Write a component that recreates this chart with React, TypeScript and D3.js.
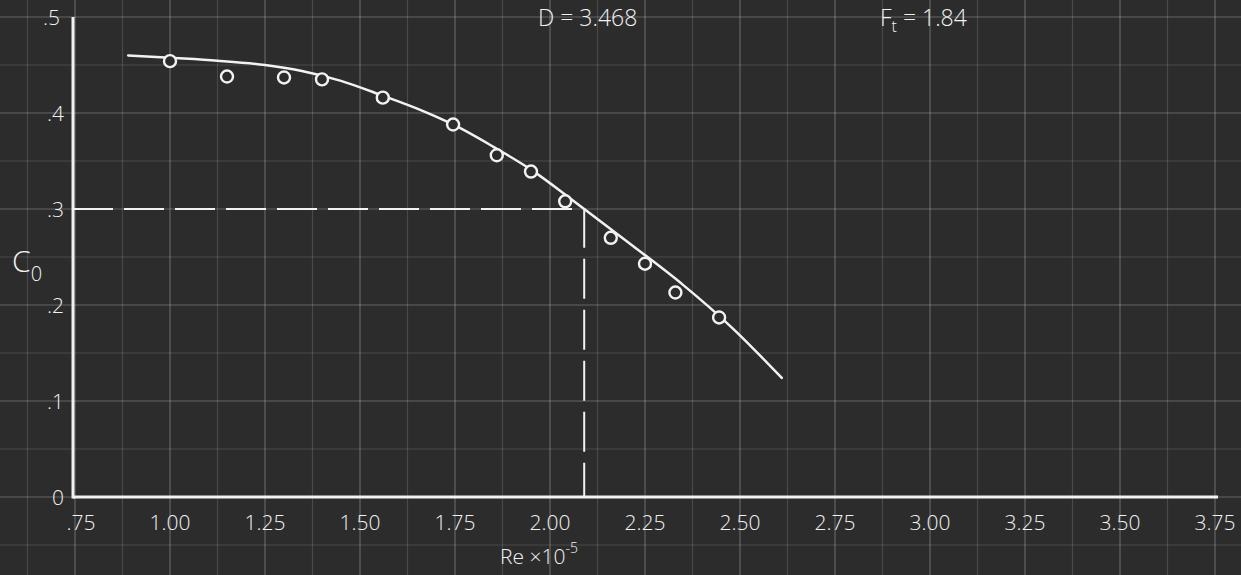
import React from "react";
import * as d3 from "d3";

// Reynolds number (×10^-5) tick values and their printed labels
const reTicks = [0.75, 1.0, 1.25, 1.5, 1.75, 2.0, 2.25, 2.5, 2.75, 3.0, 3.25, 3.5, 3.75];
const reTickLabels = [".75", "1.00", "1.25", "1.50", "1.75", "2.00", "2.25", "2.50", "2.75", "3.00", "3.25", "3.50", "3.75"];

// Discharge coefficient tick values and labels
const c0Ticks = [0, 0.1, 0.2, 0.3, 0.4, 0.5];
const c0TickLabels = ["0", ".1", ".2", ".3", ".4", ".5"];

// Measured points
const measuredRe = [1.0, 1.15, 1.3, 1.4, 1.56, 1.745, 1.86, 1.95, 2.04, 2.16, 2.25, 2.33, 2.445];
const measuredC0 = [0.454, 0.438, 0.437, 0.435, 0.416, 0.388, 0.356, 0.339, 0.308, 0.27, 0.243, 0.213, 0.187];

// Faired curve through the measurements
const curveRe = [0.89, 1.0, 1.125, 1.25, 1.35, 1.45, 1.56, 1.66, 1.75, 1.85, 1.95, 2.05, 2.09, 2.22, 2.35, 2.48, 2.61];
const curveC0 = [0.46, 0.4575, 0.4545, 0.45, 0.4435, 0.4335, 0.418, 0.403, 0.387, 0.365, 0.341, 0.312, 0.3, 0.261, 0.221, 0.176, 0.124];

// Design-point readout
const designC0 = 0.3;
const designRe = 2.09;

const W = 1241;
const H = 575;
const BG = "#2c2c2c";
const INK = "#f2f2f2";
const FONT = "'Open Sans', 'DejaVu Sans', sans-serif";

export default function App() {
  const x = d3.scaleLinear().domain([0.75, 3.75]).range([75, 1215]);
  const y = d3.scaleLinear().domain([0, 0.5]).range([497, 17]);

  // grid spacing: 0.125 in Re, 0.05 in C0, continued across the whole sheet
  const gridX: number[] = [];
  for (let v = 0.5; v <= 4.0001; v += 0.125) gridX.push(+v.toFixed(3));
  const gridY: number[] = [];
  for (let v = -0.1; v <= 0.6001; v += 0.05) gridY.push(+v.toFixed(3));

  const line = d3
    .line<number>()
    .x((_, i) => x(curveRe[i]))
    .y((d) => y(d))
    .curve(d3.curveMonotoneX);

  const axisX = x(0.75) - 2;

  return (
    <svg
      width={W}
      height={H}
      viewBox={`0 0 ${W} ${H}`}
      style={{ position: "absolute", left: 0, top: 0, display: "block" }}
    >
      <rect x={0} y={0} width={W} height={H} fill={BG} />

      {/* graph-paper grid */}
      <g>
        {gridX.map((v) => {
          const major = Math.abs(v / 0.25 - Math.round(v / 0.25)) < 1e-6;
          return (
            <line
              key={"gx" + v}
              x1={x(v)}
              x2={x(v)}
              y1={0}
              y2={H}
              stroke="#ffffff"
              strokeOpacity={major ? 0.27 : 0.14}
              strokeWidth={1.2}
            />
          );
        })}
        {gridY.map((v) => {
          const major = Math.abs(v / 0.1 - Math.round(v / 0.1)) < 1e-6;
          return (
            <line
              key={"gy" + v}
              x1={0}
              x2={W}
              y1={y(v)}
              y2={y(v)}
              stroke="#ffffff"
              strokeOpacity={major ? 0.27 : 0.14}
              strokeWidth={1.2}
            />
          );
        })}
      </g>

      {/* axes */}
      <line x1={axisX} x2={axisX} y1={y(0.5)} y2={y(0) + 1.5} stroke={INK} strokeWidth={3} />
      <line x1={axisX} x2={x(3.75) + 3} y1={y(0)} y2={y(0)} stroke={INK} strokeWidth={3} />

      {/* tick labels */}
      <g fontFamily={FONT} fontSize={21} fill={INK} fontWeight={300}>
        {reTicks.map((v, i) => (
          <text key={"xt" + v} x={x(v) + (i === 0 ? 6 : 0)} y={530} textAnchor="middle">
            {reTickLabels[i]}
          </text>
        ))}
        {c0Ticks.map((v, i) => (
          <text key={"yt" + v} x={i === 5 ? 60 : 64} y={y(v) + 8} textAnchor="end">
            {c0TickLabels[i]}
          </text>
        ))}
      </g>

      {/* axis titles */}
      <text x={12} y={272} fontFamily={FONT} fontSize={30} fill={INK} fontWeight={300}>
        C
        <tspan dy={9} fontSize={20}>0</tspan>
      </text>
      <text x={500} y={564} fontFamily={FONT} fontSize={21} fill={INK} fontWeight={300}>
        Re ×10
        <tspan dy={-11} fontSize={14}>-5</tspan>
      </text>

      {/* header */}
      <text x={538} y={26} fontFamily={FONT} fontSize={23} fill={INK} fontWeight={300}>
        D = 3.468
      </text>
      <text x={880} y={26} fontFamily={FONT} fontSize={23} fill={INK} fontWeight={300}>
        F
        <tspan dy={6} fontSize={16}>t</tspan>
        <tspan dy={-6}> = 1.84</tspan>
      </text>

      {/* design-point readout */}
      <path
        d={`M${axisX},${y(designC0)}H${x(designRe)}V${y(0)}`}
        fill="none"
        stroke={INK}
        strokeWidth={2}
        strokeDasharray="40 11"
      />

      {/* faired curve */}
      <path d={line(curveC0) ?? ""} fill="none" stroke={INK} strokeWidth={2.5} strokeLinecap="round" />

      {/* measurements */}
      {measuredRe.map((r, i) => (
        <circle
          key={"m" + i}
          cx={x(r)}
          cy={y(measuredC0[i])}
          r={6}
          fill={BG}
          stroke={INK}
          strokeWidth={2.4}
        />
      ))}
    </svg>
  );
}
